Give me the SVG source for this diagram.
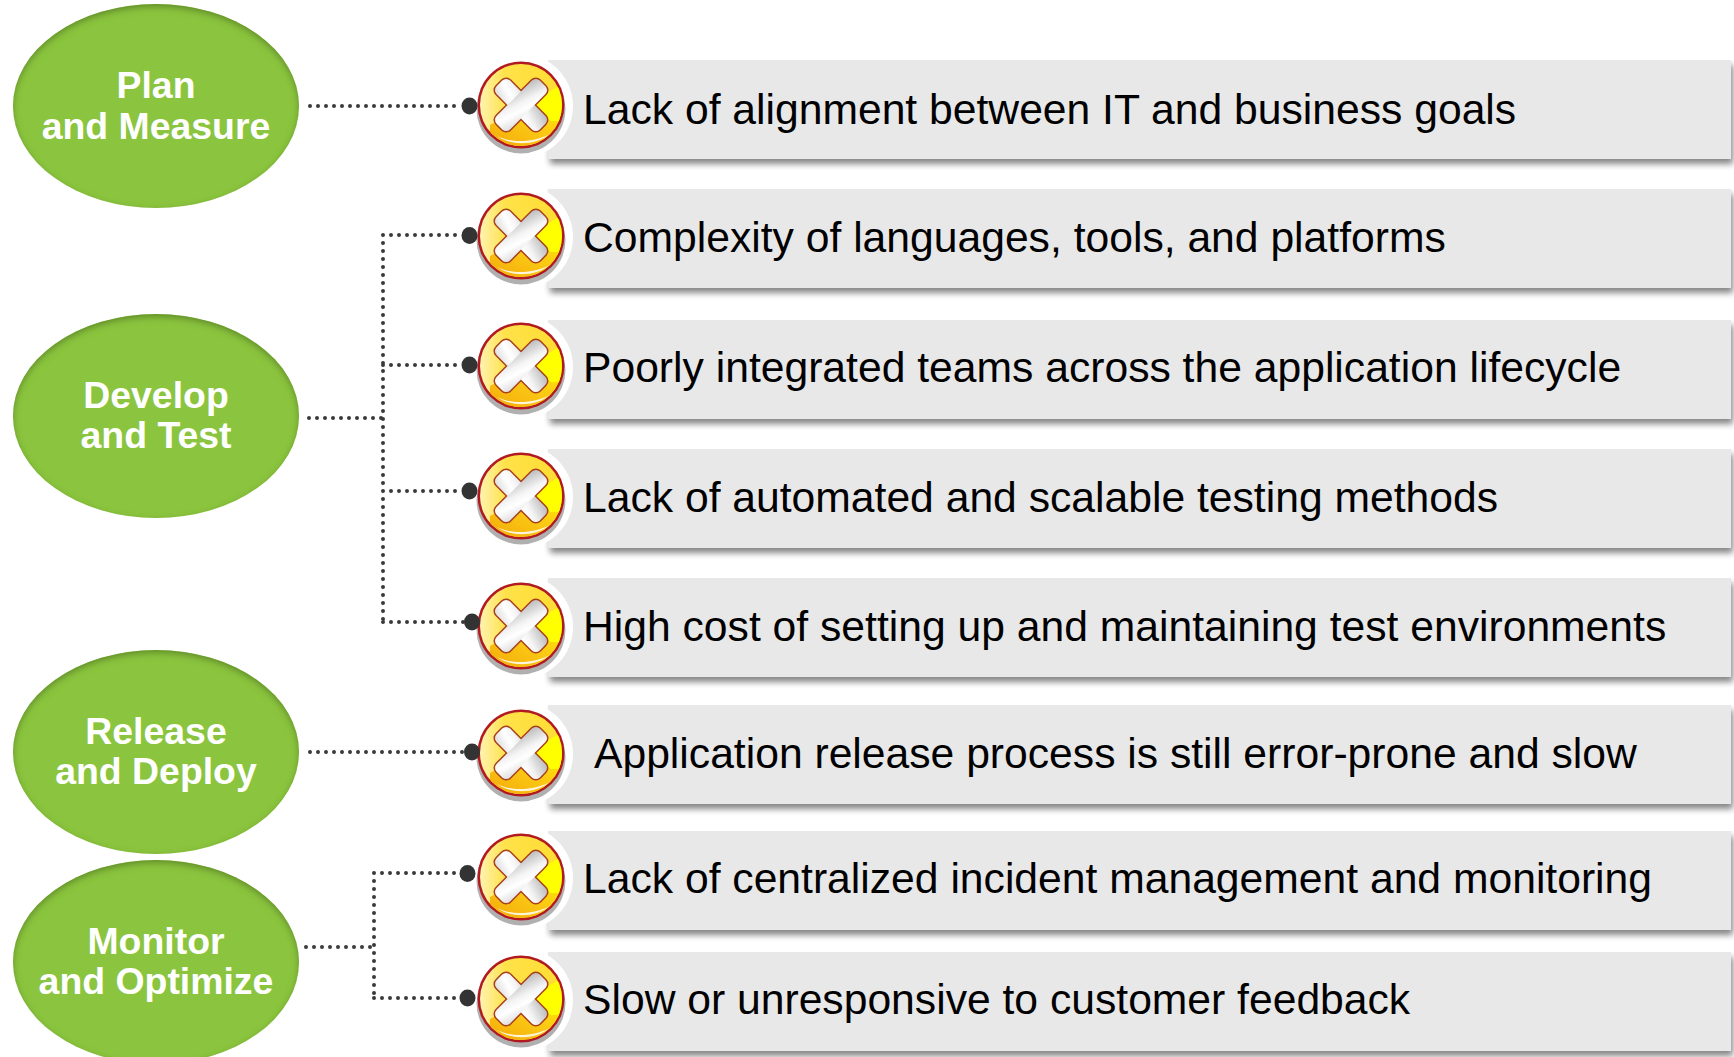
<svg xmlns="http://www.w3.org/2000/svg" width="1734" height="1057" viewBox="0 0 1734 1057">
<style>
.oval{fill:#8bc53f;filter:url(#inset)}
.ot{font:bold 37.4px "Liberation Sans",Arial,sans-serif;fill:#fff;text-anchor:middle}
.bt{font:42.65px "Liberation Sans",Arial,sans-serif;fill:#000}
.box{fill:#e8e8e8;filter:url(#boxs)}
.dot{fill:none;stroke:#3a3a3a;stroke-width:4;stroke-linecap:round;stroke-dasharray:0 8}
.end{fill:#333}
</style>
<defs>
<filter id="inset" x="-5%" y="-5%" width="110%" height="110%">
<feGaussianBlur in="SourceAlpha" stdDeviation="3.5" result="b"/>
<feOffset in="b" dy="3" result="o"/>
<feComposite in="SourceAlpha" in2="o" operator="out" result="i"/>
<feFlood flood-color="#3f5f15" flood-opacity=".7"/>
<feComposite in2="i" operator="in" result="s"/>
<feMerge><feMergeNode in="SourceGraphic"/><feMergeNode in="s"/></feMerge>
</filter>
<filter id="boxs" x="-2%" y="-5%" width="104%" height="125%">
<feGaussianBlur in="SourceAlpha" stdDeviation="3"/>
<feOffset dx="2" dy="5"/>
<feComponentTransfer><feFuncA type="linear" slope=".48"/></feComponentTransfer>
<feMerge><feMergeNode/><feMergeNode in="SourceGraphic"/></feMerge>
</filter>
<linearGradient id="gold" x1="0" y1="0" x2="1" y2="0"><stop offset="0" stop-color="#fff4b8"/><stop offset=".32" stop-color="#ffe24a"/><stop offset="1" stop-color="#ffdc30"/></linearGradient>
<linearGradient id="low" x1="0" y1="1" x2="1" y2="0"><stop offset="0" stop-color="#f3a90a"/><stop offset=".55" stop-color="#fbc814"/><stop offset="1" stop-color="#ffec00"/></linearGradient>
<linearGradient id="xf" x1="0" y1="1" x2="1" y2="0"><stop offset="0" stop-color="#dcdcdc"/><stop offset=".35" stop-color="#fff"/><stop offset=".55" stop-color="#f4f4f4"/><stop offset="1" stop-color="#b9b9b9"/></linearGradient>
<clipPath id="disc"><circle r="41"/></clipPath>
<g id="icon">
<circle r="52" cy="1" fill="#fff"/>
<circle cy="4" r="44.500" fill="#b0b0b0"/>
<circle r="43.500" fill="#b01a20"/>
<g clip-path="url(#disc)">
<rect x="-43" y="-43" width="86" height="86" fill="url(#gold)"/>
<path d="M-31 20 L2 2 L43 10 V43 H-31 Z" fill="url(#low)"/>
<path d="M2 2 L43-22 V16 L30 16 Z" fill="#ffff00"/>
<path d="M-24 31 C-10 38 12 38 29 29 C14 41 -10 41 -24 31 Z" fill="#fff" opacity=".85"/>
</g>
<g fill="#a8401c">
<rect x="-32" y="-11" width="64" height="22" rx="7" transform="rotate(45)"/>
<rect x="-32" y="-11" width="64" height="22" rx="7" transform="rotate(-45)"/>
</g>
<g fill="url(#xf)">
<rect x="-30.500" y="-9.500" width="61" height="19" rx="5.500" transform="rotate(45)"/>
<rect x="-30.500" y="-9.500" width="61" height="19" rx="5.500" transform="rotate(-45)"/>
</g>
</g>
</defs>
<rect width="1734" height="1057" fill="#fff"/>

<g id="phase-plan"><ellipse class="oval" cx="156" cy="106" rx="143" ry="102"/><text class="ot" x="156" y="98">Plan</text><text class="ot" x="156" y="139">and Measure</text></g>
<g id="phase-develop"><ellipse class="oval" cx="156" cy="416" rx="143" ry="102"/><text class="ot" x="156" y="408">Develop</text><text class="ot" x="156" y="448">and Test</text></g>
<g id="phase-release"><ellipse class="oval" cx="156" cy="752" rx="143" ry="102"/><text class="ot" x="156" y="744">Release</text><text class="ot" x="156" y="784">and Deploy</text></g>
<g id="phase-monitor"><ellipse class="oval" cx="156" cy="962" rx="143" ry="102"/><text class="ot" x="156" y="954">Monitor</text><text class="ot" x="156" y="994">and Optimize</text></g>

<g id="item-1"><rect class="box" x="548" y="60" width="1183" height="99"/><use href="#icon" x="521" y="105"/><text class="bt" x="583" y="124">Lack of alignment between IT and business goals</text></g>
<g id="item-2"><rect class="box" x="548" y="189" width="1183" height="99"/><use href="#icon" x="521" y="236"/><text class="bt" x="583" y="252">Complexity of languages, tools, and platforms</text></g>
<g id="item-3"><rect class="box" x="548" y="320" width="1183" height="99"/><use href="#icon" x="521" y="366"/><text class="bt" x="583" y="382">Poorly integrated teams across the application lifecycle</text></g>
<g id="item-4"><rect class="box" x="548" y="449" width="1183" height="99"/><use href="#icon" x="521" y="496"/><text class="bt" x="583" y="512">Lack of automated and scalable testing methods</text></g>
<g id="item-5"><rect class="box" x="548" y="578" width="1183" height="99"/><use href="#icon" x="521" y="626"/><text class="bt" x="583" y="641">High cost of setting up and maintaining test environments</text></g>
<g id="item-6"><rect class="box" x="548" y="705" width="1183" height="99"/><use href="#icon" x="521" y="753"/><text class="bt" x="594" y="768">Application release process is still error-prone and slow</text></g>
<g id="item-7"><rect class="box" x="548" y="831" width="1183" height="99"/><use href="#icon" x="521" y="877"/><text class="bt" x="583" y="893">Lack of centralized incident management and monitoring</text></g>
<g id="item-8"><rect class="box" x="548" y="952" width="1183" height="99"/><use href="#icon" x="521" y="999"/><text class="bt" x="583" y="1014">Slow or unresponsive to customer feedback</text></g>

<g id="connectors">
<path class="dot" d="M310 106H462"/>
<path class="dot" d="M309 418H383M383 235V622M383 235H462M383 365H462M383 491H462M383 622H464"/>
<path class="dot" d="M310 752H464"/>
<path class="dot" d="M306 947H374M374 873V998M374 873H460M374 998H460"/>
<ellipse class="end" cx="469.500" cy="106" rx="8" ry="8.500"/>
<ellipse class="end" cx="469.500" cy="235.500" rx="8" ry="8.500"/>
<ellipse class="end" cx="469.500" cy="365" rx="8" ry="8.500"/>
<ellipse class="end" cx="469.500" cy="491" rx="8" ry="8.500"/>
<ellipse class="end" cx="472" cy="622" rx="8" ry="8.500"/>
<ellipse class="end" cx="472" cy="752" rx="8" ry="8.500"/>
<ellipse class="end" cx="467.500" cy="873.500" rx="8" ry="8.500"/>
<ellipse class="end" cx="467.500" cy="998" rx="8" ry="8.500"/>
</g>
</svg>
